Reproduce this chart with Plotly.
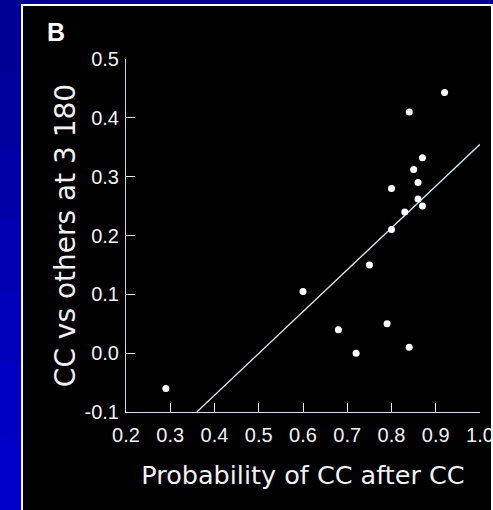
import plotly.graph_objects as go

# Data
prob_cc_after_cc = [0.29, 0.60, 0.68, 0.72, 0.79, 0.84, 0.75, 0.80, 0.83, 0.87,
                    0.86, 0.80, 0.86, 0.85, 0.87, 0.84, 0.92]
cc_vs_others = [-0.06, 0.105, 0.04, 0.0, 0.05, 0.01, 0.15, 0.21, 0.24, 0.25,
                0.262, 0.28, 0.29, 0.312, 0.332, 0.41, 0.443]
fit_x = [0.36, 1.0]
fit_y = [-0.1, 0.355]
x_ticks = [0.2, 0.3, 0.4, 0.5, 0.6, 0.7, 0.8, 0.9, 1.0]
x_tick_labels = ["0.2", "0.3", "0.4", "0.5", "0.6", "0.7", "0.8", "0.9", "1.0"]
y_ticks = [-0.1, 0.0, 0.1, 0.2, 0.3, 0.4, 0.5]
y_tick_labels = ["-0.1", "0.0", "0.1", "0.2", "0.3", "0.4", "0.5"]

W, H = 493, 510
L, R, T, B = 126, 13, 59, 98
pw, ph = W - L - R, H - T - B

def px(x):
    return (x - L) / pw

def py(y):
    return (H - B - y) / ph

fig = go.Figure()
fig.add_trace(go.Scatter(x=fit_x, y=fit_y, mode="lines",
                         line=dict(color="#d8e8f0", width=1.3),
                         hoverinfo="skip", showlegend=False, cliponaxis=False))
fig.add_trace(go.Scatter(x=prob_cc_after_cc, y=cc_vs_others, mode="markers",
                         marker=dict(color="white", size=7, line=dict(width=0)),
                         showlegend=False, cliponaxis=False))

shapes = []
# blue background gradient strips
blues = ["#000094", "#00009c", "#0000a6", "#0000b0", "#0000ba", "#0000c2", "#0000c8"]
n = len(blues)
for i, c in enumerate(blues):
    y0 = i * H / n
    y1 = (i + 1) * H / n + 1
    shapes.append(dict(type="rect", xref="paper", yref="paper", layer="below",
                       x0=px(-1), x1=px(W + 1), y0=py(y1), y1=py(y0),
                       fillcolor=c, line=dict(width=0)))
# black panel with white border
shapes.append(dict(type="rect", xref="paper", yref="paper", layer="below",
                   x0=px(22), x1=px(492), y0=py(515), y1=py(5),
                   fillcolor="black", line=dict(color="white", width=2)))

fig.update_layout(
    width=W, height=H,
    margin=dict(l=L, r=R, t=T, b=B, pad=0, autoexpand=False),
    paper_bgcolor="#0000b0",
    plot_bgcolor="rgba(0,0,0,0)",
    shapes=shapes,
    font=dict(family="Liberation Sans, Arial, sans-serif", color="#f2f2f2"),
    xaxis=dict(range=[0.2, 1.0], tickvals=x_ticks, ticktext=x_tick_labels,
               showgrid=False, zeroline=False, showline=True, linecolor="#e0e0ff",
               linewidth=1, ticks="inside", ticklen=9, tickcolor="#f0f0f0",
               tickwidth=1, tickfont=dict(size=20, color="#f2f2f2"),
               ticklabelstandoff=5, automargin=False, ticklabeloverflow="allow",
               title=dict(text="Probability of CC after CC",
                          font=dict(size=25.5, color="#f2f2f2", family="DejaVu Sans"),
                          standoff=21)),
    yaxis=dict(range=[-0.1, 0.5], tickvals=y_ticks, ticktext=y_tick_labels,
               showgrid=False, zeroline=False, showline=True, linecolor="#d0d0e0",
               linewidth=1, ticks="inside", ticklen=9, tickcolor="#f0f0f0",
               tickwidth=1, tickfont=dict(size=20, color="#f2f2f2"),
               ticklabelstandoff=2, automargin=False, ticklabeloverflow="allow",
               title=dict(text="CC vs others at 3 180",
                          font=dict(size=28, color="#f2f2f2", family="DejaVu Sans"),
                          standoff=0)),
    annotations=[dict(text="<b>B</b>", xref="paper", yref="paper",
                      x=px(56), y=py(32), xanchor="center", yanchor="middle",
                      showarrow=False, font=dict(size=25, color="white"))],
)

fig.write_html("out.html", config={"displayModeBar": False},
               post_script="document.body.style.margin='0';document.body.style.overflow='hidden';")
